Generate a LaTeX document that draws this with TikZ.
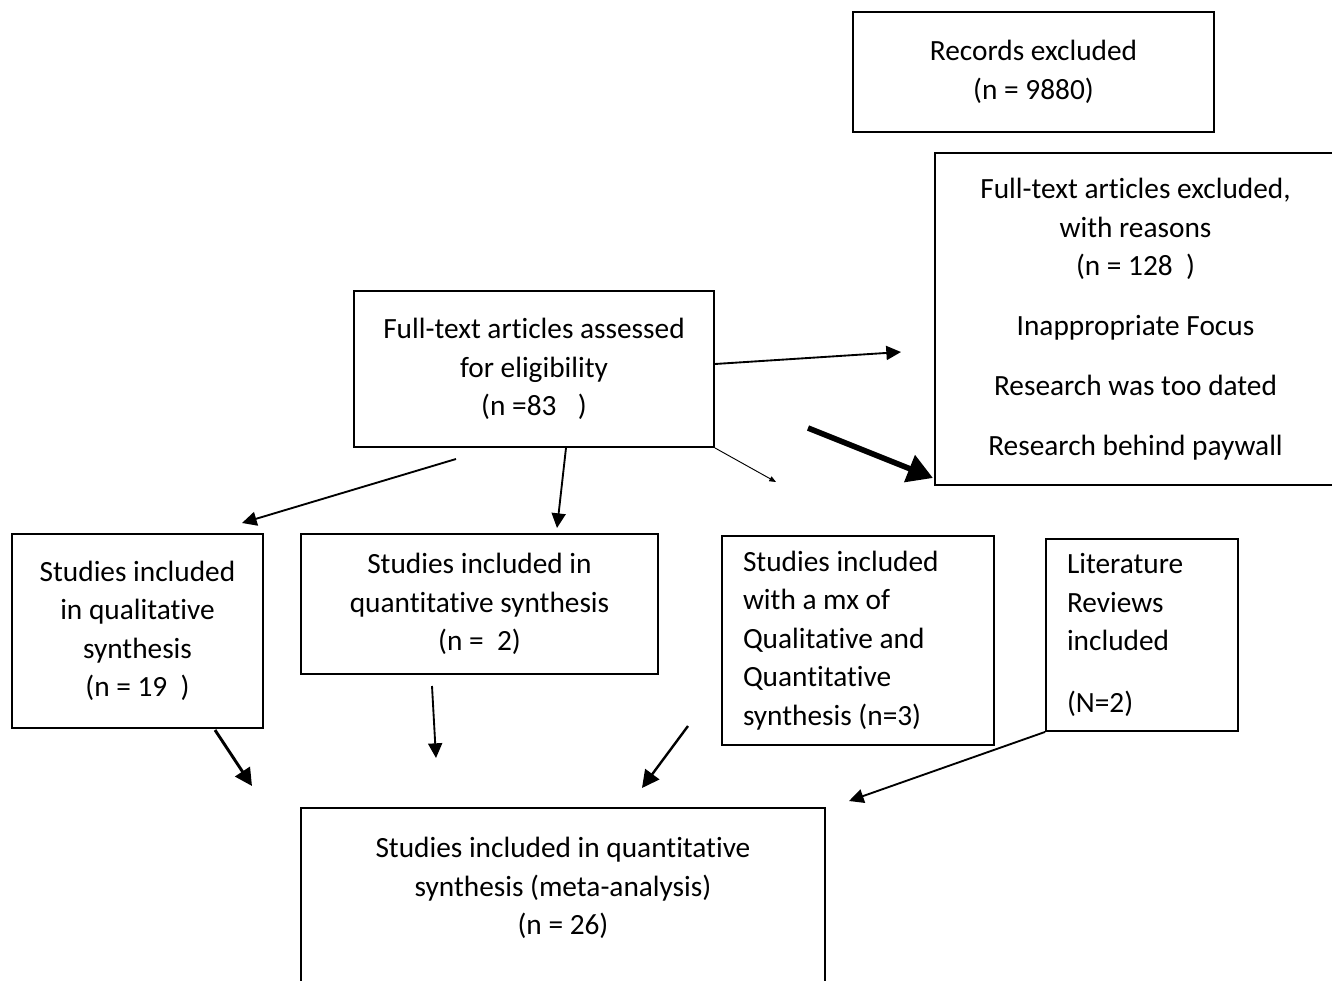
\documentclass[tikz,border=0pt]{standalone}
\usepackage{fontspec}
\setmainfont{Carlito}[Ligatures={NoCommon}]
\usepackage{tikz}
\usetikzlibrary{arrows.meta}

\begin{document}
\begin{tikzpicture}[
  x=0.75pt, y=-0.75pt,
  font=\fontsize{22}{28.9}\selectfont,
  sz/.style 2 args={minimum width=#1*0.75pt, minimum height=#2*0.75pt},
  box/.style={draw=black, line width=1.4pt, inner sep=0pt, align=center},
  lbox/.style={box, align=flush left, inner xsep=15.75pt},
  arr/.style={line width=1.4pt, -{Triangle[length=11pt,width=10.5pt]}},
  arrthin/.style={line width=0.7pt, -{Triangle[length=5pt,width=4pt]}},
  arrmid/.style={line width=2.2pt, -{Triangle[length=13pt,width=13pt]}},
  arrheavy/.style={line width=4.2pt, -{Triangle[length=19pt,width=21pt]}},
]
\useasboundingbox (0,0) rectangle (1332,981);
\clip (0,0) rectangle (1332,981);

% boxes
\node[box, sz={361}{120}] (records) at (1033.5,72) {Records excluded\\(n = 9880)};
\node[box, sz={401}{332}] (excluded) at (1135.5,319)
  {Full-text articles excluded,\\with reasons\\(n = 128\ \ )\\[16pt]Inappropriate Focus\\[16pt]Research was too dated\\[16pt]Research behind paywall};
\node[box, sz={360}{156}] (assessed) at (534,369)
  {Full-text articles assessed\\for eligibility\\(n =83\hspace{16pt})};
\node[box, sz={251}{194}] (qual) at (137.5,631)
  {Studies included\\in qualitative\\synthesis\\(n = 19\ \ )};
\node[box, sz={357}{140}] (quant) at (479.5,604)
  {Studies included in\\quantitative synthesis\\(n =\ \ 2)};
\node[lbox, sz={272}{209}, text width=172.5pt] (mixed) at (858,640.5)
  {Studies included\\with a mx of\\Qualitative and\\Quantitative\\synthesis (n=3)};
\node[lbox, sz={192}{192}, text width=112.5pt] (litrev) at (1142,635)
  {Literature\\Reviews\\included\\[17pt](N=2)};
\node[box, sz={524}{233}] (meta) at (563,924.5)
  {Studies included in quantitative\\synthesis (meta-analysis)\\(n = 26)\\ \\ };

% free arrow ends
\coordinate (exclIn) at (901,352);
\coordinate (qualIn) at (242,523);
\coordinate (quantIn) at (557,528);
\coordinate (dotEnd) at (776,482);
\coordinate (heavyFrom) at (808,428);
\coordinate (heavyTo) at (933,478);
\coordinate (qualOut) at (215,730);
\coordinate (metaInA) at (252,786);
\coordinate (quantOut) at (432,686);
\coordinate (metaInB) at (436,758);
\coordinate (mixedOut) at (688,726);
\coordinate (metaInC) at (642,788);
\coordinate (metaInD) at (849,801);
\coordinate (assessOut) at (456,459);

% connectors
\draw[arr] (assessed.east |- 0,364) -- (exclIn);
\draw[arr] (assessOut) -- (qualIn);
\draw[arr] ([xshift=24pt]assessed.south) -- (quantIn);
\draw[arrthin] (assessed.south east) -- (dotEnd);
\draw[arrheavy] (heavyFrom) -- (heavyTo);
\draw[arrmid] (qualOut) -- (metaInA);
\draw[arr] (quantOut) -- (metaInB);
\draw[arrmid, line width=1.8pt] (mixedOut) -- (metaInC);
\draw[arr] (litrev.south west) -- (metaInD);
\end{tikzpicture}
\end{document}
